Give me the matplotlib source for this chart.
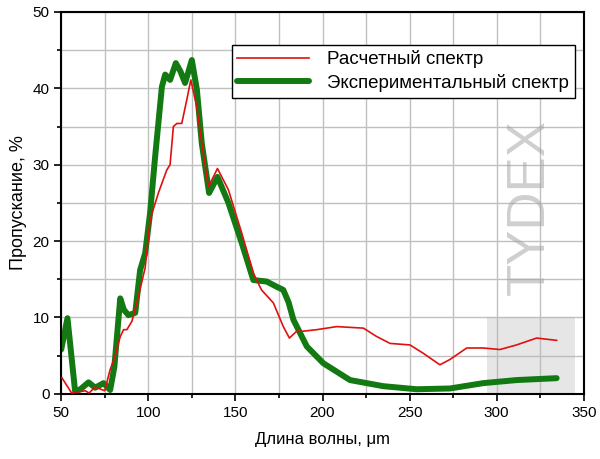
import matplotlib.pyplot as plt
from matplotlib.patches import Rectangle
from matplotlib.ticker import MultipleLocator

plt.rcParams['font.family'] = ['Liberation Sans', 'DejaVu Sans']

# calculated spectrum (red)
calc_x = [50.4, 56, 63.8, 66, 69.5, 75, 78, 81, 83.9, 85.8, 87.7, 90.6, 93.4, 98.2,
          101, 105.8, 110.6, 112.5, 114.4, 116.4, 119.2, 122.1, 124.4, 127.8, 130.7,
          134.5, 139.7, 146, 153.7, 160.3, 165, 171.8, 177.5, 181, 185.2, 189, 196.7,
          208.2, 223.5, 231.1, 238.8, 250.2, 257.9, 267.4, 273.2, 282.8, 292.3, 301.9,
          311.4, 322.9, 334.4]
calc_y = [2.1, 0.1, 0.4, 0.1, 0.9, 0.4, 3.1, 5.0, 7.5, 8.4, 8.4, 9.5, 11.9, 16.5,
          22.8, 26.3, 29.3, 30.0, 35.0, 35.4, 35.4, 38.5, 41.1, 37.6, 32.8,
          27.1, 29.5, 26.7, 21.0, 15.8, 13.6, 11.9, 8.8, 7.3, 8.2, 8.2, 8.4,
          8.8, 8.6, 7.5, 6.6, 6.4, 5.3, 3.8, 4.5, 6.0, 6.0, 5.8,
          6.4, 7.3, 7.0]

# experimental spectrum (green)
exp_x = [50, 53.6, 58, 61, 65.7, 69.5, 74.3, 78.1, 80.5, 83.9, 86, 88.6, 92.5, 95.3,
         98.2, 101, 103.9, 107.8, 109.7, 112.5, 115.8, 118.5, 121.1, 125, 127.9,
         130.7, 134.9, 139.7, 146, 153.7, 160.3, 164, 168, 173, 177.5, 180.5, 183.3,
         191, 200.5, 215.8, 234.9, 254, 273.2, 292.3, 311.4, 334.4]
exp_y = [5.8, 9.9, 0.3, 0.6, 1.5, 0.8, 1.4, 0.5, 3.5, 12.5, 11.0, 10.3, 10.6, 16.2,
         18.4, 23.6, 31.0, 40.2, 41.8, 41.1, 43.3, 42.2, 40.7, 43.7, 39.8,
         32.8, 26.3, 28.4, 25.0, 19.7, 14.9, 14.8, 14.7, 14.1, 13.6, 12.0, 9.7,
         6.2, 4.0, 1.8, 1.0, 0.6, 0.7, 1.4, 1.8, 2.05]

fig = plt.figure(figsize=(6, 4.59), dpi=100)
ax = fig.add_axes([0.102, 0.142, 0.871, 0.832])

# watermark
ax.text(0.897, 0.49, 'TYDEX', transform=ax.transAxes, rotation=90, fontsize=38,
        color='#a0a0a0', alpha=0.5, ha='center', va='center', zorder=1.5)
ax.add_patch(Rectangle((0.814, 0.0), 0.17, 0.2, transform=ax.transAxes,
                       facecolor='#b8b8b8', alpha=0.35, edgecolor='none', zorder=1.5))

ax.plot(calc_x, calc_y, color='#e01010', lw=1.2, label='Расчетный спектр', zorder=3)
ax.plot(exp_x, exp_y, color='#137a13', lw=4.3, label='Экспериментальный спектр',
        zorder=2, solid_capstyle='round', solid_joinstyle='round')

ax.set_xlim(50, 350)
ax.set_ylim(0, 50)
ax.xaxis.set_major_locator(MultipleLocator(50))
ax.xaxis.set_minor_locator(MultipleLocator(25))
ax.yaxis.set_major_locator(MultipleLocator(10))
ax.yaxis.set_minor_locator(MultipleLocator(5))
ax.grid(True, which='both', color='#c0c0c0', lw=1.0, zorder=1)
ax.set_axisbelow(True)
ax.tick_params(which='both', direction='out', labelsize=11, width=1.2)
ax.tick_params(which='major', length=5)
ax.tick_params(which='minor', length=3)
for s in ax.spines.values():
    s.set_linewidth(1.5)

ax.set_xlabel('Длина волны, μm', fontsize=12, labelpad=9)
ax.set_ylabel('Пропускание, %', fontsize=13)

leg = ax.legend(loc='upper right', bbox_to_anchor=(0.983, 0.914), borderaxespad=0,
                fontsize=13.5, frameon=True, fancybox=False, edgecolor='black',
                framealpha=1, handlelength=3.8, handletextpad=1.0,
                borderpad=0.3, labelspacing=0.3)
leg.get_frame().set_linewidth(1.0)

fig.savefig('out.png', dpi=100)
